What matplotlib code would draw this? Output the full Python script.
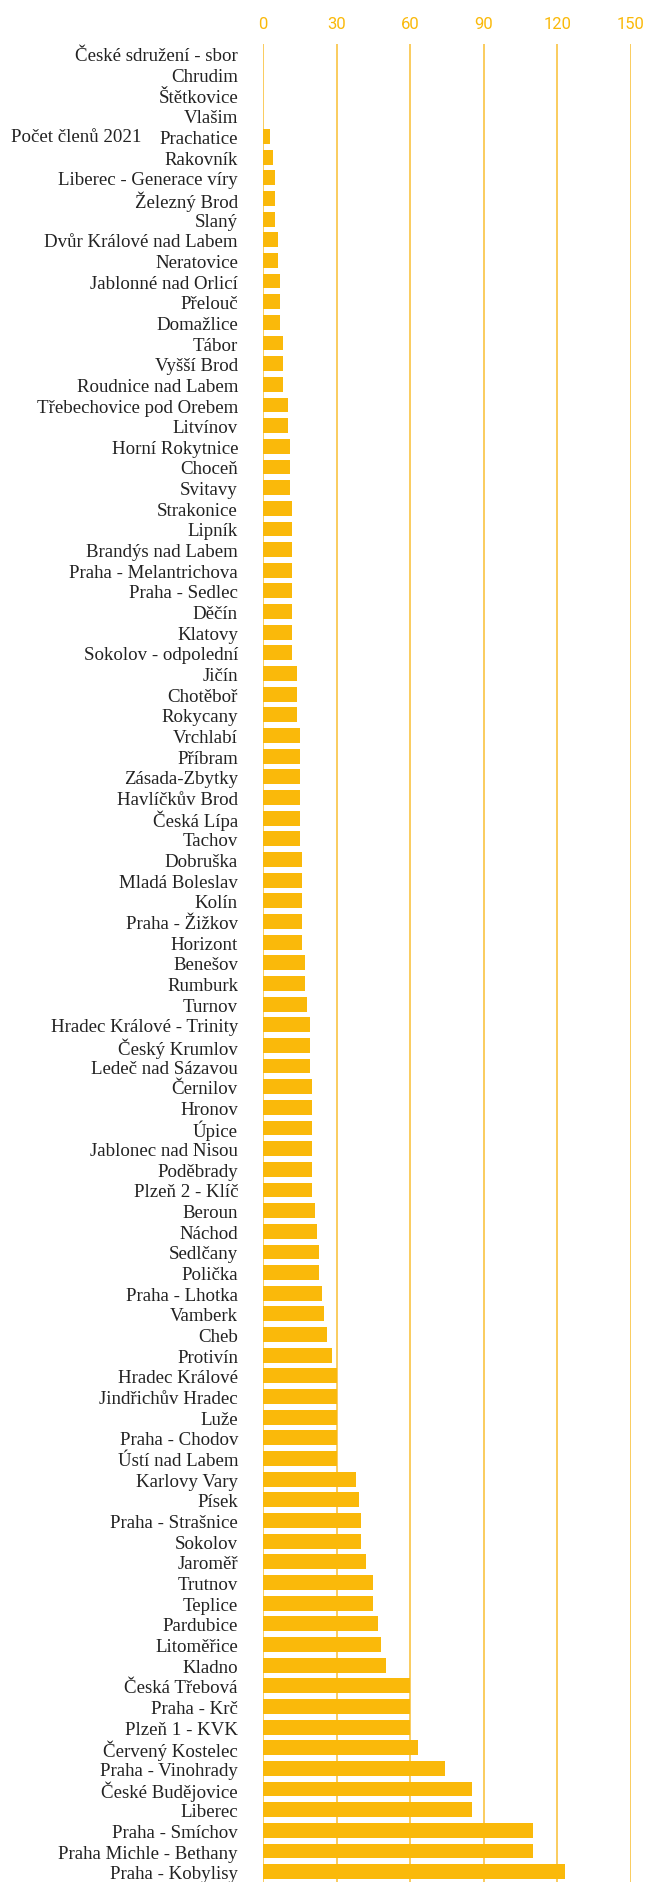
import matplotlib.pyplot as plt
from matplotlib import transforms

plt.rcParams['font.family'] = ['Liberation Serif', 'DejaVu Serif']

# sbory a počet členů 2021
sbory = [
    "České sdružení - sbor", "Chrudim", "Štětkovice", "Vlašim", "Prachatice",
    "Rakovník", "Liberec - Generace víry", "Železný Brod", "Slaný",
    "Dvůr Králové nad Labem", "Neratovice", "Jablonné nad Orlicí", "Přelouč",
    "Domažlice", "Tábor", "Vyšší Brod", "Roudnice nad Labem",
    "Třebechovice pod Orebem", "Litvínov", "Horní Rokytnice", "Choceň",
    "Svitavy", "Strakonice", "Lipník", "Brandýs nad Labem",
    "Praha - Melantrichova", "Praha - Sedlec", "Děčín", "Klatovy",
    "Sokolov - odpolední", "Jičín", "Chotěboř", "Rokycany", "Vrchlabí",
    "Příbram", "Zásada-Zbytky", "Havlíčkův Brod", "Česká Lípa", "Tachov",
    "Dobruška", "Mladá Boleslav", "Kolín", "Praha - Žižkov", "Horizont",
    "Benešov", "Rumburk", "Turnov", "Hradec Králové - Trinity",
    "Český Krumlov", "Ledeč nad Sázavou", "Černilov", "Hronov", "Úpice",
    "Jablonec nad Nisou", "Poděbrady", "Plzeň 2 - Klíč", "Beroun", "Náchod",
    "Sedlčany", "Polička", "Praha - Lhotka", "Vamberk", "Cheb", "Protivín",
    "Hradec Králové", "Jindřichův Hradec", "Luže", "Praha - Chodov",
    "Ústí nad Labem", "Karlovy Vary", "Písek", "Praha - Strašnice", "Sokolov",
    "Jaroměř", "Trutnov", "Teplice", "Pardubice", "Litoměřice", "Kladno",
    "Česká Třebová", "Praha - Krč", "Plzeň 1 - KVK", "Červený Kostelec",
    "Praha - Vinohrady", "České Budějovice", "Liberec", "Praha - Smíchov",
    "Praha Michle - Bethany", "Praha - Kobylisy",
]
clenove = [
    0, 0, 0, 0, 3,
    4, 5, 5, 5,
    6, 6, 7, 7,
    7, 8, 8, 8,
    10, 10, 11, 11,
    11, 12, 12, 12,
    12, 12, 12, 12,
    12, 14, 14, 14, 15,
    15, 15, 15, 15, 15,
    16, 16, 16, 16, 16,
    17, 17, 18, 19,
    19, 19, 20, 20, 20,
    20, 20, 20, 21, 22,
    23, 23, 24, 25, 26, 28,
    30, 30, 30, 30,
    30, 38, 39, 40, 40,
    42, 45, 45, 47, 48, 50,
    60, 60, 60, 63,
    74, 85, 85, 110,
    110, 123,
]
x_ticks = [0, 30, 60, 90, 120, 150]

zluta = '#FAB90A'
mrizka = '#F9C443'

fig = plt.figure(figsize=(6.46, 18.83), dpi=100)
ax = fig.add_axes([263 / 646, 0.0, 368 / 646, 1 - 44.5 / 1883])

pozice = list(range(len(sbory)))
ax.barh(pozice, clenove, height=0.72, color=zluta, zorder=2)
ax.set_ylim(len(sbory) - 0.5, -0.5)
ax.set_xlim(0, 150)

ax.set_yticks(pozice)
ax.set_yticklabels(sbory, fontsize=13.6, color='#222222')
ax.tick_params(axis='y', length=0, pad=18)

ax.xaxis.tick_top()
ax.set_xticks(x_ticks)
ax.set_xticklabels([str(t) for t in x_ticks], fontsize=12, color=zluta,
                   family=['Roboto', 'DejaVu Sans'])
ax.tick_params(axis='x', length=0, pad=9)

ax.grid(axis='x', color=mrizka, linewidth=1.2, zorder=0)
ax.grid(axis='y', visible=False)
for s in ax.spines.values():
    s.set_visible(False)

# název série vlevo
tr = transforms.blended_transform_factory(fig.transFigure, ax.transData)
ax.text(11 / 646, 4, "Počet členů 2021", transform=tr, ha='left', va='center',
        fontsize=13.6, color='#222222')

fig.savefig("out.png", dpi=100)
